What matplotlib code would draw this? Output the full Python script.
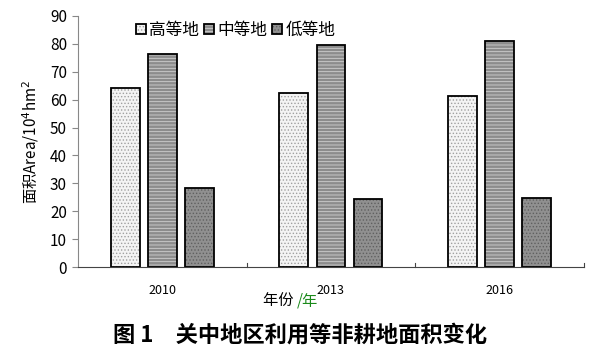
import matplotlib.pyplot as plt
import numpy as np

plt.rcParams['font.family'] = ['Noto Sans CJK SC', 'DejaVu Sans']
plt.rcParams['hatch.linewidth'] = 0.6

# Data
years = ['2010', '2013', '2016']
series = ['高等地', '中等地', '低等地']
high = [64.2, 62.4, 61.4]
mid = [76.2, 79.7, 81.1]
low = [28.4, 24.5, 24.7]

fig = plt.figure(figsize=(6, 3.6), dpi=100)
ax = fig.add_axes([0.13, 0.258, 0.843, 0.698])

x = np.arange(len(years))
w = 0.17
step = 0.22
styles = [
    dict(color='#f4f4f4', hatch='.....', ec_h='#a0a0a0'),
    dict(color='#8c8c8c', hatch='-----', ec_h='#d0d0d0'),
    dict(color='#909090', hatch='.....', ec_h='#606060'),
]
handles = []
for i, (vals, st) in enumerate(zip([high, mid, low], styles)):
    b = ax.bar(x + (i - 1) * step, vals, w, color=st['color'],
               hatch=st['hatch'], edgecolor=st['ec_h'], linewidth=0)
    # black outline on top of the hatching
    o = ax.bar(x + (i - 1) * step, vals, w, fill=False, edgecolor='black', linewidth=1.3)
    handles.append((b, o))

ax.set_xlim(-0.5, 2.5)
ax.set_ylim(0, 90)
ax.set_yticks(range(0, 91, 10))
ax.tick_params(axis='y', labelsize=11, length=4, color='#888888', pad=4)
ax.set_xticks(x)
ax.set_xticklabels(years, fontsize=9)
ax.tick_params(axis='x', length=0, pad=12)
# small upward separators between categories
for sep in [0.5, 1.5, 2.5]:
    ax.plot([sep, sep], [0, 1.6], color='#444444', lw=0.8, clip_on=False)

for s in ['top', 'right']:
    ax.spines[s].set_visible(False)
ax.spines['left'].set_color('#888888')
ax.spines['bottom'].set_color('#444444')

ax.set_ylabel('面积Area/10$^4$hm$^2$', fontsize=11, labelpad=6)

leg = ax.legend(handles, series, loc='upper left', bbox_to_anchor=(0.085, 1.035),
                ncol=3, frameon=False, fontsize=12, handlelength=0.6,
                handleheight=0.6, handletextpad=0.2, columnspacing=0.3)

# x label with green unit
fig.text(0.495, 0.165, '年份 ', ha='right', va='center', fontsize=11)
fig.text(0.495, 0.165, '/年', ha='left', va='center', fontsize=11, color='#1a8a1a')

fig.text(0.5, 0.07, '图 1　关中地区利用等非耕地面积变化', ha='center', va='center',
         fontsize=16, fontweight='bold')

fig.savefig('out.png', dpi=100, facecolor='white')
